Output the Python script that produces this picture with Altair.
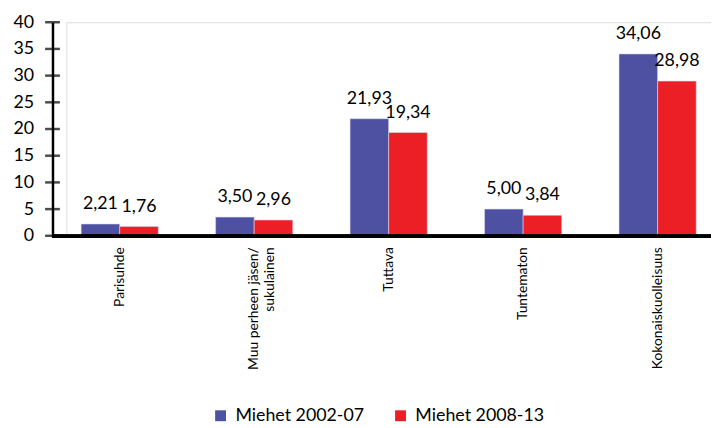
import altair as alt
import pandas as pd

categories = ["Parisuhde", "Muu perheen jäsen/|sukulainen", "Tuttava", "Tuntematon", "Kokonaiskuolleisuus"]
series = ["Miehet 2002-07", "Miehet 2008-13"]
values_2002 = [2.21, 3.50, 21.93, 5.00, 34.06]
values_2008 = [1.76, 2.96, 19.34, 3.84, 28.98]
y_ticks = [0, 5, 10, 15, 20, 25, 30, 35, 40]
colors = ["#4E51A1", "#EC1F26"]

rows = []
for c, a, b in zip(categories, values_2002, values_2008):
    rows.append({"cat": c, "series": series[0], "value": a, "label": f"{a:.2f}".replace(".", ",")})
    rows.append({"cat": c, "series": series[1], "value": b, "label": f"{b:.2f}".replace(".", ",")})
df = pd.DataFrame(rows)
ticks_df = pd.DataFrame({"value": y_ticks})

FONT = "Lato"
W, H = 652, 216
AX_OFF = 14

x_enc = alt.X(
    "cat:N", sort=categories,
    scale=alt.Scale(paddingInner=0.426, paddingOuter=0.11),
    axis=alt.Axis(title=None, labelAngle=-90, labelExpr="split(datum.label, '|')",
                  domain=False, ticks=False, labelPadding=11,
                  labelFontSize=14, labelFont=FONT, labelColor="black", labelLineHeight=16,
                  labelLimit=300),
)
y_scale = alt.Scale(domain=[0, 40], nice=False, zero=True)
y_enc = alt.Y(
    "value:Q", scale=y_scale,
    axis=alt.Axis(title=None, values=y_ticks, grid=False, ticks=False, domainColor="black",
                  domainWidth=2.5, labelFontSize=18, labelFont=FONT, labelColor="black",
                  labelPadding=19, labelOverlap=False, offset=AX_OFF),
)
xoff = alt.XOffset("series:N", sort=series, scale=alt.Scale(paddingInner=0, paddingOuter=0))

bars = alt.Chart(df).mark_bar(stroke="#d8d8ee", strokeWidth=0.6).encode(
    x=x_enc, xOffset=xoff, y=y_enc,
    color=alt.Color("series:N", sort=series, scale=alt.Scale(domain=series, range=colors),
                    legend=alt.Legend(title=None, orient="none", legendX=147, legendY=389,
                                      direction="horizontal", symbolType="square",
                                      symbolSize=121, symbolStrokeWidth=0,
                                      labelFontSize=18, labelFont=FONT, labelColor="black",
                                      columnPadding=27, labelOffset=6)),
)

labels = alt.Chart(df).mark_text(dy=-15, baseline="alphabetic", fontSize=18, font=FONT,
                                 color="black").encode(
    x=x_enc, xOffset=xoff, y=y_enc, text="label:N",
)

tick_marks = alt.Chart(ticks_df).mark_tick(orient="horizontal", size=15, thickness=2.5,
                                           color="black").encode(
    y=y_enc, x=alt.value(-AX_OFF),
)

x_domain = alt.Chart(ticks_df).mark_rule(color="black", strokeWidth=3).encode(
    x=alt.value(-AX_OFF), x2=alt.value(W + 10), y=alt.value(H + 0.5),
)

chart = alt.layer(bars, labels, tick_marks, x_domain).properties(
    width=W, height=H,
    autosize=alt.AutoSizeParams(type="none"),
    padding={"left": 59, "top": 12, "right": 0, "bottom": 192},
).configure_view(stroke=None).configure(background="white")

chart.save("out.html", embed_options={"renderer": "svg", "actions": False})
